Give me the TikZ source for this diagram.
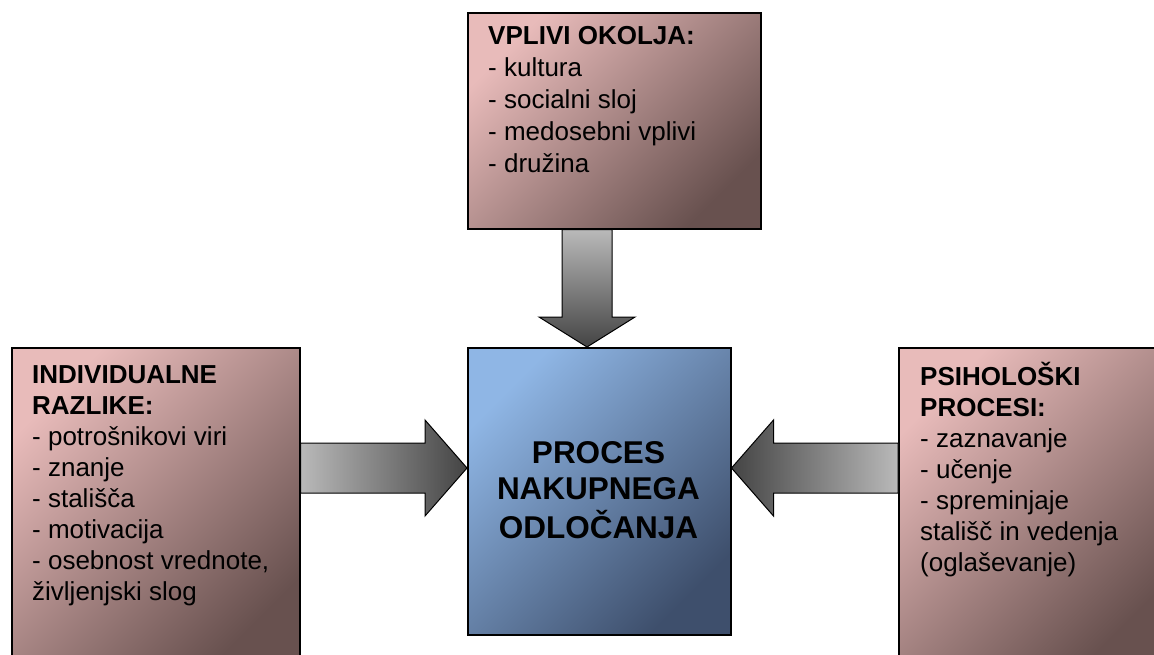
\documentclass[tikz,border=0pt]{standalone}
\usepackage{fontspec}
\setmainfont{Liberation Sans}
\usetikzlibrary{calc}

\definecolor{pinklight}{RGB}{232,187,186}
\definecolor{pinkdark}{RGB}{104,81,79}
\definecolor{bluelight}{RGB}{143,182,229}
\definecolor{bluedark}{RGB}{62,79,108}
\definecolor{greylight}{RGB}{185,185,185}
\definecolor{greydark}{RGB}{68,68,68}

\begin{document}
\begin{tikzpicture}[x=1pt, y=-1pt,
    factor/.style={draw=black, line width=1.5pt, anchor=north west, inner sep=0pt,
      top color=pinklight, bottom color=pinkdark, shading angle=45},
    process/.style={draw=black, line width=1.5pt, anchor=north west, inner sep=0pt,
      top color=bluelight, bottom color=bluedark, shading angle=45},
    txt/.style={inner sep=0pt, font=\fontsize{26}{31}\selectfont},
    bigtxt/.style={inner sep=0pt, font=\fontsize{31.5}{36}\selectfont\bfseries},
    blockarrow/.style={draw=black, line width=1pt, line join=miter}
  ]
  \useasboundingbox (0,0) rectangle (1154,654);
  \clip (0,0) rectangle (1154,654);

  % boxes
  \node[factor, minimum width=293pt, minimum height=216pt] (okolje) at (467,12) {};
  \node[factor, minimum width=288pt, minimum height=320pt] (razlike) at (11,347) {};
  \node[factor, minimum width=270pt, minimum height=320pt] (procesi) at (898,347) {};
  \node[process, minimum width=263pt, minimum height=287pt] (odlocanje) at (467,347) {};

  % texts
  \node[txt, font=\fontsize{26}{32}\selectfont, anchor=base west] (okoljetxt) at (488,44) {\begin{tabular}[t]{@{}l@{}}
    \textbf{VPLIVI OKOLJA:}\\
    - kultura\\
    - socialni sloj\\
    - medosebni vplivi\\
    - družina
  \end{tabular}};
  \node[txt, anchor=base west] (razliketxt) at (32,383) {\begin{tabular}[t]{@{}l@{}}
    \textbf{INDIVIDUALNE}\\
    \textbf{RAZLIKE:}\\
    - potrošnikovi viri\\
    - znanje\\
    - stališča\\
    - motivacija\\
    - osebnost vrednote,\\
    življenjski slog
  \end{tabular}};
  \node[txt, anchor=base west] (procesitxt) at (920,385) {\begin{tabular}[t]{@{}l@{}}
    \textbf{PSIHOLOŠKI}\\
    \textbf{PROCESI:}\\
    - zaznavanje\\
    - učenje\\
    - spreminjaje\\
    stališč in vedenja\\
    (oglaševanje)
  \end{tabular}};
  \node[bigtxt, anchor=base] (odlocanjetxt) at (598.5,463) {\begin{tabular}[t]{@{}c@{}}
    PROCES\\
    NAKUPNEGA\\
    ODLOČANJA
  \end{tabular}};

  % arrows
  \coordinate (ax) at (587,0);
  \coordinate (ay) at (0,468);
  \path (ax |- okolje.south) coordinate (t1) (ax |- odlocanje.north) coordinate (t2);
  \path (ay -| razlike.east) coordinate (l1) (ay -| odlocanje.west) coordinate (l2);
  \path (ay -| procesi.west) coordinate (r1) (ay -| odlocanje.east) coordinate (r2);

  \draw[blockarrow, top color=greylight, bottom color=greydark]
    ($(t1)+(-25,0)$) -- ($(t2)+(-25,-30)$) -- ($(t2)+(-48,-30)$) -- (t2)
    -- ($(t2)+(48,-30)$) -- ($(t2)+(25,-30)$) -- ($(t1)+(25,0)$) -- cycle;
  \draw[blockarrow, left color=greylight, right color=greydark]
    ($(l1)+(0,-25)$) -- ($(l2)+(-42,-25)$) -- ($(l2)+(-42,-48)$) -- (l2)
    -- ($(l2)+(-42,48)$) -- ($(l2)+(-42,25)$) -- ($(l1)+(0,25)$) -- cycle;
  \draw[blockarrow, left color=greydark, right color=greylight]
    ($(r1)+(0,-25)$) -- ($(r2)+(42,-25)$) -- ($(r2)+(42,-48)$) -- (r2)
    -- ($(r2)+(42,48)$) -- ($(r2)+(42,25)$) -- ($(r1)+(0,25)$) -- cycle;
\end{tikzpicture}
\end{document}
